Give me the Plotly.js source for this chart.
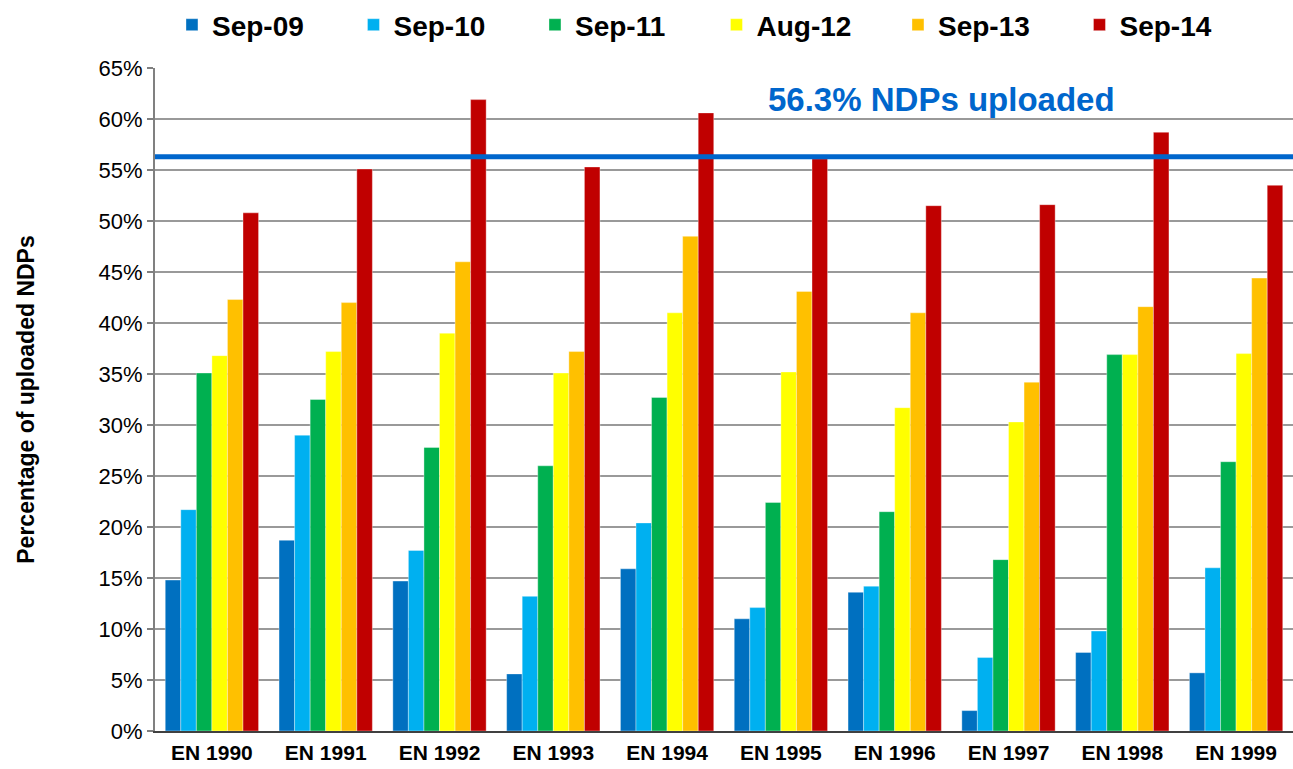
<!DOCTYPE html>
<html>
<head>
<meta charset="utf-8">
<script src="https://cdn.plot.ly/plotly-3.0.1.min.js"></script>
<style>html,body{margin:0;padding:0;background:#fff;}#chart{width:1293px;height:769px;}</style>
</head>
<body>
<div id="chart"></div>
<script>
const categories = ["EN 1990","EN 1991","EN 1992","EN 1993","EN 1994","EN 1995","EN 1996","EN 1997","EN 1998","EN 1999"];
const seriesNames = ["Sep-09","Sep-10","Sep-11","Aug-12","Sep-13","Sep-14"];
const sep09 = [14.8, 18.7, 14.7, 5.6, 15.9, 11.0, 13.6, 2.0, 7.7, 5.7];
const sep10 = [21.7, 29.0, 17.7, 13.2, 20.4, 12.1, 14.2, 7.2, 9.8, 16.0];
const sep11 = [35.1, 32.5, 27.8, 26.0, 32.7, 22.4, 21.5, 16.8, 36.9, 26.4];
const aug12 = [36.8, 37.2, 39.0, 35.1, 41.0, 35.2, 31.7, 30.3, 36.9, 37.0];
const sep13 = [42.3, 42.0, 46.0, 37.2, 48.5, 43.1, 41.0, 34.2, 41.6, 44.4];
const sep14 = [50.8, 55.1, 61.9, 55.3, 60.6, 56.1, 51.5, 51.6, 58.7, 53.5];
const targetValue = 56.3;
const targetLabel = "56.3% NDPs uploaded";
const yTicks = [0,5,10,15,20,25,30,35,40,45,50,55,60,65];
const yTickText = yTicks.map(v => v + "%");

const colors = ["#0070C0","#00B0F0","#00B050","#FFFF00","#FFC000","#C00000"];
const allValues = [sep09, sep10, sep11, aug12, sep13, sep14];

const traces = allValues.map((vals, i) => ({
  type: "bar",
  name: seriesNames[i],
  x: categories,
  y: vals,
  marker: {color: colors[i], line: {color: "rgba(255,255,255,0.6)", width: 0.6}},
  hoverinfo: "x+y+name"
}));

const layout = {
  width: 1293, height: 769,
  margin: {l: 155, r: 0, t: 68, b: 38, autoexpand: false},
  paper_bgcolor: "#fff", plot_bgcolor: "#fff",
  barmode: "group",
  bargap: 0.18,
  bargroupgap: 0,
  font: {family: "Liberation Sans, Arial, sans-serif", color: "#000"},
  showlegend: true,
  legend: {
    orientation: "h",
    xref: "container", yref: "container",
    x: 0.133, y: 1.0, xanchor: "left", yanchor: "top",
    entrywidth: 136.5, entrywidthmode: "pixels",
    itemwidth: 30,
    font: {size: 28, family: "Liberation Sans, Arial, sans-serif", weight: "bold", color: "#000"},
    bgcolor: "rgba(0,0,0,0)",
    traceorder: "normal"
  },
  xaxis: {
    type: "category",
    tickfont: {size: 21, family: "Liberation Sans, Arial, sans-serif", weight: "bold", color: "#000"},
    showline: true, linecolor: "#404040", linewidth: 2,
    ticks: "", showgrid: false, zeroline: false,
    ticklabelstandoff: 2
  },
  yaxis: {
    range: [0, 65],
    tickmode: "array",
    tickvals: yTicks,
    ticktext: yTickText,
    tickfont: {size: 22, family: "Liberation Sans, Arial, sans-serif", color: "#000"},
    showgrid: true, gridcolor: "#999999", gridwidth: 1.5,
    showline: true, linecolor: "#808080", linewidth: 2,
    ticks: "outside", ticklen: 6, tickcolor: "#808080", tickwidth: 1.5,
    zeroline: false,
    title: {text: "Percentage of uploaded NDPs", font: {size: 23, family: "Liberation Sans, Arial, sans-serif", weight: "bold", color: "#000"}, standoff: 58}
  },
  shapes: [{
    type: "line", xref: "paper", yref: "y",
    x0: 0, x1: 1, y0: targetValue, y1: targetValue,
    line: {color: "#0066CC", width: 5},
    layer: "above"
  }],
  annotations: [{
    text: targetLabel,
    xref: "paper", yref: "y",
    x: 0.537, y: 61.9,
    xanchor: "left", yanchor: "middle",
    showarrow: false,
    font: {size: 33, family: "Liberation Sans, Arial, sans-serif", weight: "bold", color: "#0066CC"}
  }]
};

Plotly.newPlot("chart", traces, layout, {displayModeBar: false, staticPlot: true});
</script>
</body>
</html>
